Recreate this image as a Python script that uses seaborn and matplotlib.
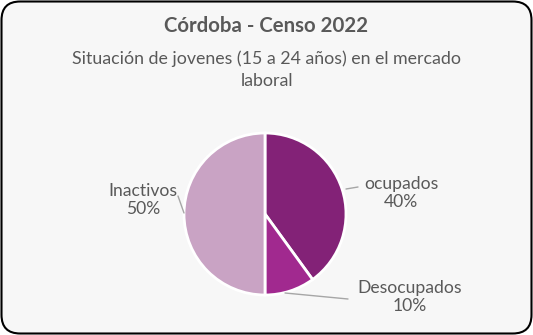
import numpy as np
import matplotlib
matplotlib.use("Agg")
import matplotlib.pyplot as plt
from matplotlib.patches import FancyBboxPatch
import seaborn as sns

categories = ["ocupados", "Desocupados", "Inactivos"]
values = [40, 10, 50]
colors = ["#832277", "#A1298F", "#C9A3C4"]

title = "Córdoba - Censo 2022"
subtitle = "Situación de jovenes (15 a 24 años) en el mercado\nlaboral"

sns.set_theme(style="white")
plt.rcParams["font.family"] = ["Lato", "DejaVu Sans"]

W, H = 533, 335
fig = plt.figure(figsize=(W / 100, H / 100), dpi=100)
fig.patch.set_alpha(0)

# rounded frame drawn behind everything
frame = FancyBboxPatch((1.5 / W, 1.5 / H), (W - 3) / W, (H - 3) / H,
                       boxstyle="round,pad=0,rounding_size=0.035",
                       transform=fig.transFigure, facecolor="#F7F7F7",
                       edgecolor="black", linewidth=1.5, mutation_aspect=W / H,
                       zorder=-10)
fig.patches.append(frame)

fig.text(0.5, 1 - 26 / H, title, ha="center", va="center", fontsize=14.7,
         fontweight="bold", color="#595959")
fig.text(0.5, 1 - 70 / H, subtitle, ha="center", va="center", fontsize=12.8,
         color="#595959", linespacing=1.45)

cx, cy, r = 265, 214, 81
ax = fig.add_axes([(cx - r) / W, (H - cy - r) / H, 2 * r / W, 2 * r / H])
ax.patch.set_alpha(0)
wedges, _ = ax.pie(values, colors=colors, startangle=90, counterclock=False,
                   radius=1, wedgeprops=dict(edgecolor="white", linewidth=2))
ax.set_xlim(-1, 1)
ax.set_ylim(-1, 1)
ax.set_aspect("equal")
ax.axis("off")

def px(x, y):
    return ((x - cx) / r, (cy - y) / r)

label_pos = {"ocupados": (401, 193), "Desocupados": (410, 297), "Inactivos": (143, 200)}
lines = {
    "ocupados": [(346, 189), (358, 187)],
    "Desocupados": [(285, 293), (348, 299)],
    "Inactivos": [(184, 213), (178, 196)],
}
for name, val in zip(categories, values):
    lx, ly = px(*label_pos[name])
    ax.text(lx, ly, f"{name}\n{val}%", ha="center", va="center", fontsize=12.6,
            color="#595959", linespacing=1.15, clip_on=False)
    (x0, y0), (x1, y1) = [px(*p) for p in lines[name]]
    ax.plot([x0, x1], [y0, y1], color="#A6A6A6", lw=1, clip_on=False)

fig.savefig("out.png", dpi=100)
